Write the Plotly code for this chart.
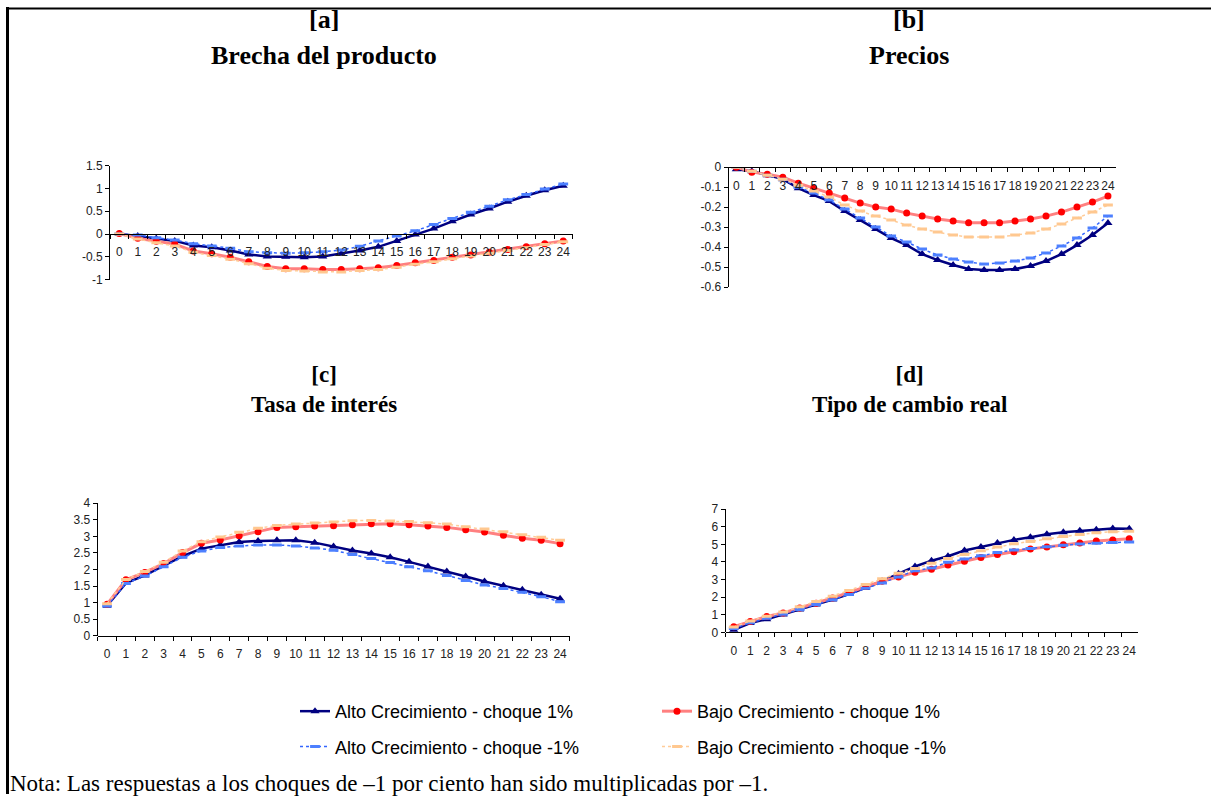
import plotly.graph_objects as go

# periodos (trimestres) 0..24
periods = ["0", "1", "2", "3", "4", "5", "6", "7", "8", "9", "10", "11", "12",
           "13", "14", "15", "16", "17", "18", "19", "20", "21", "22", "23", "24"]

# [a] Brecha del producto
a_alto_1 = [0, -0.04, -0.1, -0.15, -0.25, -0.29, -0.36, -0.45, -0.49, -0.5, -0.51, -0.49, -0.43,
            -0.36, -0.28, -0.15, -0.01, 0.12, 0.28, 0.43, 0.56, 0.71, 0.84, 0.96, 1.06]
a_bajo_1 = [0.01, -0.09, -0.16, -0.22, -0.37, -0.43, -0.51, -0.61, -0.71, -0.76, -0.76, -0.78, -0.78,
            -0.76, -0.74, -0.69, -0.63, -0.58, -0.51, -0.46, -0.4, -0.34, -0.28, -0.21, -0.15]
a_alto_m1 = [0, -0.02, -0.08, -0.13, -0.21, -0.26, -0.31, -0.39, -0.41, -0.42, -0.41, -0.39, -0.35,
             -0.27, -0.15, -0.04, 0.07, 0.21, 0.34, 0.48, 0.61, 0.75, 0.87, 0.99, 1.1]
a_bajo_m1 = [0, -0.11, -0.19, -0.26, -0.4, -0.47, -0.55, -0.65, -0.75, -0.8, -0.81, -0.83, -0.83,
             -0.8, -0.78, -0.73, -0.66, -0.61, -0.54, -0.48, -0.42, -0.36, -0.3, -0.23, -0.17]

# [b] Precios
b_alto_1 = [-0.01, -0.02, -0.04, -0.06, -0.105, -0.14, -0.17, -0.22, -0.265, -0.31, -0.355, -0.39, -0.435,
            -0.465, -0.49, -0.51, -0.515, -0.515, -0.51, -0.495, -0.47, -0.435, -0.39, -0.34, -0.28]
b_bajo_1 = [0, -0.025, -0.035, -0.05, -0.08, -0.105, -0.13, -0.155, -0.18, -0.2, -0.21, -0.23, -0.245,
            -0.26, -0.27, -0.278, -0.278, -0.278, -0.27, -0.26, -0.245, -0.225, -0.2, -0.175, -0.145]
b_alto_m1 = [0, -0.02, -0.04, -0.06, -0.1, -0.13, -0.165, -0.21, -0.255, -0.3, -0.345, -0.375, -0.41,
             -0.44, -0.46, -0.475, -0.485, -0.48, -0.47, -0.455, -0.43, -0.395, -0.355, -0.305, -0.245]
b_bajo_m1 = [0, -0.02, -0.04, -0.06, -0.09, -0.12, -0.15, -0.19, -0.22, -0.245, -0.265, -0.29, -0.31,
             -0.325, -0.34, -0.35, -0.35, -0.35, -0.34, -0.33, -0.31, -0.285, -0.255, -0.225, -0.19]

# [c] Tasa de interés
c_alto_1 = [0.91, 1.59, 1.82, 2.11, 2.4, 2.63, 2.74, 2.83, 2.86, 2.88, 2.88, 2.81, 2.69,
            2.57, 2.48, 2.37, 2.23, 2.09, 1.94, 1.79, 1.64, 1.51, 1.39, 1.24, 1.12]
c_bajo_1 = [0.95, 1.69, 1.91, 2.18, 2.51, 2.79, 2.89, 3.02, 3.14, 3.27, 3.29, 3.31, 3.32,
            3.35, 3.38, 3.38, 3.35, 3.31, 3.27, 3.2, 3.13, 3.03, 2.94, 2.88, 2.78]
c_alto_m1 = [0.9, 1.58, 1.8, 2.08, 2.37, 2.56, 2.66, 2.71, 2.74, 2.74, 2.71, 2.65, 2.58,
             2.45, 2.33, 2.21, 2.08, 1.96, 1.82, 1.67, 1.53, 1.43, 1.31, 1.18, 1.03]
c_bajo_m1 = [0.97, 1.7, 1.94, 2.22, 2.56, 2.84, 2.98, 3.12, 3.24, 3.33, 3.37, 3.4, 3.43,
             3.47, 3.48, 3.46, 3.45, 3.41, 3.37, 3.29, 3.22, 3.14, 3.05, 2.97, 2.88]

# [d] Tipo de cambio real
d_alto_1 = [0.15, 0.53, 0.75, 1.02, 1.3, 1.58, 1.86, 2.18, 2.52, 2.9, 3.33, 3.74, 4.07,
            4.32, 4.65, 4.85, 5.08, 5.25, 5.4, 5.57, 5.68, 5.77, 5.83, 5.89, 5.88]
d_bajo_1 = [0.32, 0.62, 0.9, 1.1, 1.38, 1.65, 1.95, 2.27, 2.6, 2.9, 3.15, 3.41, 3.58,
            3.82, 4.04, 4.25, 4.42, 4.57, 4.74, 4.85, 4.98, 5.08, 5.19, 5.25, 5.32]
d_alto_m1 = [0.22, 0.55, 0.8, 1.03, 1.3, 1.58, 1.85, 2.15, 2.5, 2.8, 3.15, 3.5, 3.66,
             3.98, 4.16, 4.35, 4.53, 4.68, 4.76, 4.86, 4.95, 5.02, 5.06, 5.1, 5.13]
d_bajo_m1 = [0.3, 0.65, 0.92, 1.15, 1.45, 1.75, 2.05, 2.38, 2.72, 3.05, 3.35, 3.62, 3.93,
             4.2, 4.42, 4.63, 4.84, 5.03, 5.16, 5.31, 5.44, 5.55, 5.66, 5.71, 5.74]

series_names = ["Alto Crecimiento - choque 1%", "Bajo Crecimiento - choque 1%",
                "Alto Crecimiento - choque -1%", "Bajo Crecimiento - choque -1%"]

panel_letters = ["[a]", "[b]", "[c]", "[d]"]
panel_titles = ["Brecha del producto", "Precios", "Tasa de interés", "Tipo de cambio real"]

a_ticks = [-1, -0.5, 0, 0.5, 1, 1.5]
a_ticktext = ["-1", "-0.5", "0", "0.5", "1", "1.5"]
b_ticks = [-0.6, -0.5, -0.4, -0.3, -0.2, -0.1, 0]
b_ticktext = ["-0.6", "-0.5", "-0.4", "-0.3", "-0.2", "-0.1", "0"]
c_ticks = [0, 0.5, 1, 1.5, 2, 2.5, 3, 3.5, 4]
c_ticktext = ["0", "0.5", "1", "1.5", "2", "2.5", "3", "3.5", "4"]
d_ticks = [0, 1, 2, 3, 4, 5, 6, 7]
d_ticktext = ["0", "1", "2", "3", "4", "5", "6", "7"]

W, H = 1211, 801

styles = [
    dict(line=dict(color="#000080", width=2.5),
         marker=dict(symbol="triangle-up", size=8, color="#000080")),
    dict(line=dict(color="#FF8080", width=3),
         marker=dict(symbol="circle", size=7, color="#FF0000")),
    dict(line=dict(color="#3366FF", width=1.5, dash="dot"),
         marker=dict(symbol="line-ew", size=7, line=dict(color="#4D80FF", width=3))),
    dict(line=dict(color="#FFCC99", width=1.5, dash="dot"),
         marker=dict(symbol="line-ew", size=7, line=dict(color="#FFC890", width=3))),
]

# geometría de cada panel (px desde arriba/izquierda) y posición de los títulos
panels = [
    dict(data=[a_alto_1, a_bajo_1, a_alto_m1, a_bajo_m1], x0=110, x1=572.5, ytop=161.5, ybot=277.5,
         rng=[-1, 1.5], ticks=a_ticks, ticktext=a_ticktext, cx=324),
    dict(data=[b_alto_1, b_bajo_1, b_alto_m1, b_bajo_m1], x0=728.6, x1=1115.7, ytop=163, ybot=285,
         rng=[-0.6, 0], ticks=b_ticks, ticktext=b_ticktext, cx=909),
    dict(data=[c_alto_1, c_bajo_1, c_alto_m1, c_bajo_m1], x0=97.6, x1=569.5, ytop=505, ybot=640,
         rng=[0, 4], ticks=c_ticks, ticktext=c_ticktext, cx=324),
    dict(data=[d_alto_1, d_bajo_1, d_alto_m1, d_bajo_m1], x0=725.5, x1=1137.5, ytop=511, ybot=636.5,
         rng=[0, 7], ticks=d_ticks, ticktext=d_ticktext, cx=909),
]

fig = go.Figure()
tick_font = dict(family="Liberation Sans, Arial", size=12, color="#222222")
serif = "Liberation Serif, Times New Roman"

for i, p in enumerate(panels):
    n = "" if i == 0 else str(i + 1)
    ydom = [1 - p["ybot"] / H, 1 - p["ytop"] / H]
    for k, vals in enumerate(p["data"]):
        fig.add_trace(go.Scatter(
            x=periods, y=vals, mode="lines+markers", name=series_names[k],
            xaxis="x" + n, yaxis="y" + n, showlegend=(i == 0),
            legend="legend" if k < 2 else "legend2",
            line=styles[k]["line"], marker=styles[k]["marker"],
        ))
    # posición del eje x: cruza en y = 0 (a, b) o en la base (c, d)
    zero_frac = (0 - p["rng"][0]) / (p["rng"][1] - p["rng"][0])
    xpos = ydom[0] + zero_frac * (ydom[1] - ydom[0])
    fig.layout["xaxis" + n] = dict(
        domain=[p["x0"] / W, p["x1"] / W], type="category", range=[-0.5, 24.5],
        anchor="free", position=xpos, side="bottom", tickangle=0,
        showline=True, linecolor="black", linewidth=1, ticks="outside", ticklen=4,
        tickcolor="black", tickson="boundaries", showgrid=False, zeroline=False,
        tickfont=tick_font, ticklabelstandoff=7, fixedrange=True,
    )
    fig.layout["yaxis" + n] = dict(
        domain=ydom, range=p["rng"], anchor="x" + n,
        tickvals=p["ticks"], ticktext=p["ticktext"],
        showline=True, linecolor="black", linewidth=1, ticks="outside", ticklen=4,
        tickcolor="black", showgrid=False, zeroline=False, tickfont=tick_font,
        fixedrange=True,
    )
    if i < 2:
        fig.add_annotation(text="<b>" + panel_letters[i] + "</b>", x=p["cx"] / W, y=1 - 13 / H,
                           xref="paper", yref="paper", xanchor="center", yanchor="middle",
                           showarrow=False, font=dict(family=serif, size=26, color="black"))
        fig.add_annotation(text="<b>" + panel_titles[i] + "</b>", x=p["cx"] / W, y=1 - 49 / H,
                           xref="paper", yref="paper", xanchor="center", yanchor="middle",
                           showarrow=False, font=dict(family=serif, size=26, color="black"))
    else:
        fig.add_annotation(text="<b>" + panel_letters[i] + "<br>" + panel_titles[i] + "</b>",
                           x=p["cx"] / W, y=1 - 389 / H,
                           xref="paper", yref="paper", xanchor="center", yanchor="middle",
                           showarrow=False, font=dict(family=serif, size=23, color="black"))

fig.add_annotation(text="Nota: Las respuestas a los choques de \u20131 por ciento han sido multiplicadas por \u20131.",
                   x=8 / W, y=1 - 790 / H, xref="paper", yref="paper", xanchor="left", yanchor="middle",
                   showarrow=False, font=dict(family=serif, size=23, color="black"))

# marco
fig.add_shape(type="line", xref="paper", yref="paper", x0=7.5 / W, x1=7.5 / W, y0=0, y1=1,
              line=dict(color="black", width=3))
fig.add_shape(type="line", xref="paper", yref="paper", x0=6 / W, x1=1, y0=1 - 1.5 / H, y1=1 - 1.5 / H,
              line=dict(color="black", width=2))

leg_font = dict(family="Liberation Sans, Arial", size=18, color="black")
fig.update_layout(
    width=W, height=H, margin=dict(l=0, r=0, t=0, b=0),
    paper_bgcolor="white", plot_bgcolor="white",
    legend=dict(orientation="h", x=295 / W, y=1 - 717 / H, xanchor="left", yanchor="middle",
                entrywidth=317, font=leg_font, bgcolor="rgba(0,0,0,0)", traceorder="normal"),
    legend2=dict(orientation="h", x=295 / W, y=1 - 753 / H, xanchor="left", yanchor="middle",
                 entrywidth=317, font=leg_font, bgcolor="rgba(0,0,0,0)", traceorder="normal"),
)

fig.write_html("out.html", config={"displayModeBar": False},
               post_script="document.body.style.margin='0';document.body.style.overflow='hidden';")
